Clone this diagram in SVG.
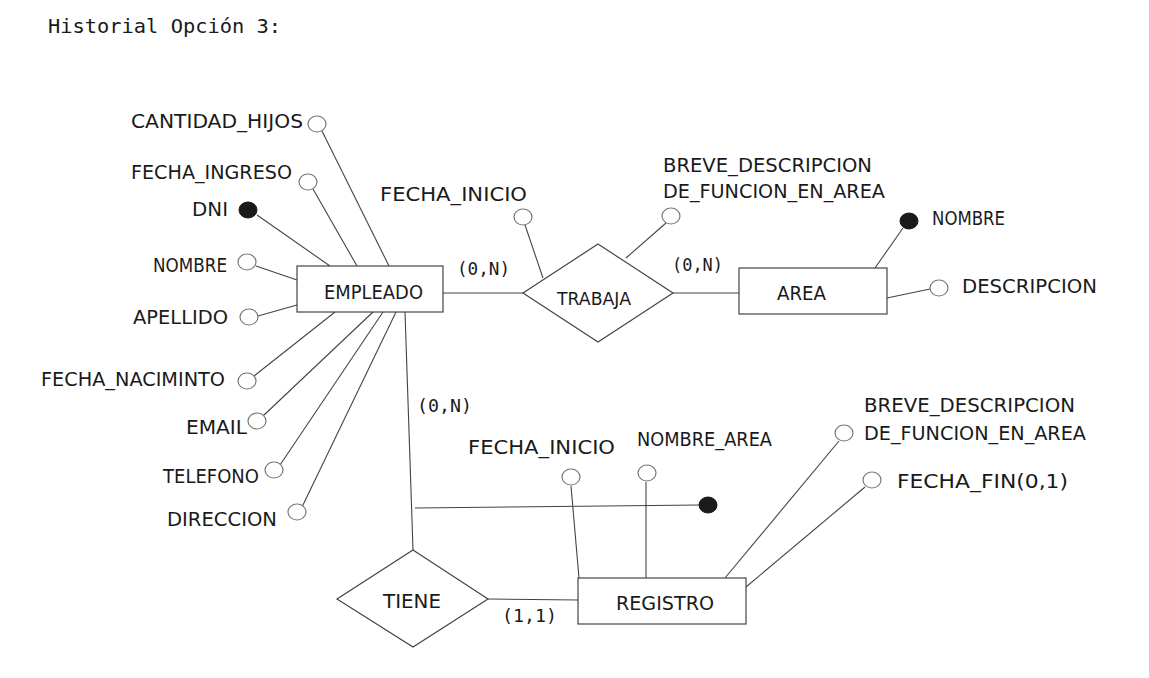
<svg xmlns="http://www.w3.org/2000/svg" width="1149" height="678" viewBox="0 0 1149 678">
<style>
.bg{fill:#fff}
.lbl{font-family:"DejaVu Sans","Noto Sans",sans-serif;font-size:19px;fill:#1a1a1a}
.mono{font-family:"DejaVu Sans Mono","Liberation Mono",monospace;font-size:18px;fill:#1a1a1a}
.title{font-family:"DejaVu Sans Mono","Liberation Mono",monospace;font-size:20px;fill:#1a1a1a}
.ent{fill:#fff;stroke:#444;stroke-width:1.2}
.att{fill:#fff;stroke:#777;stroke-width:1.2}
.key{fill:#1a1a1a;stroke:#1a1a1a;stroke-width:1}
.ln{stroke:#444;stroke-width:1.1;fill:none}
</style>
<rect class="bg" x="0" y="0" width="1149" height="678"/>
<text class="title" x="48" y="33" textLength="233" lengthAdjust="spacingAndGlyphs">Historial Opción 3:</text>

<g id="connectors">
<line class="ln" x1="322" y1="131" x2="389" y2="266"/>
<line class="ln" x1="313" y1="189" x2="357" y2="266"/>
<line class="ln" x1="257" y1="215" x2="330" y2="266"/>
<line class="ln" x1="256" y1="266" x2="297" y2="280"/>
<line class="ln" x1="258" y1="316" x2="297" y2="305"/>
<line class="ln" x1="254" y1="376" x2="335" y2="312"/>
<line class="ln" x1="263" y1="416" x2="373" y2="312"/>
<line class="ln" x1="280" y1="465" x2="383" y2="312"/>
<line class="ln" x1="302" y1="507" x2="396" y2="312"/>
<line class="ln" x1="405" y1="312" x2="413" y2="550"/>
<line class="ln" x1="415" y1="508" x2="700" y2="505"/>
<line class="ln" x1="443" y1="293" x2="523" y2="293"/>
<line class="ln" x1="673" y1="293" x2="739" y2="293"/>
<line class="ln" x1="525" y1="225" x2="543" y2="278"/>
<line class="ln" x1="666" y1="223" x2="626" y2="258"/>
<line class="ln" x1="903" y1="228" x2="875" y2="268"/>
<line class="ln" x1="887" y1="298" x2="930" y2="289"/>
<line class="ln" x1="488" y1="599" x2="578" y2="600"/>
<line class="ln" x1="571" y1="486" x2="579" y2="578"/>
<line class="ln" x1="646" y1="482" x2="646" y2="578"/>
<line class="ln" x1="839" y1="441" x2="725" y2="578"/>
<line class="ln" x1="865" y1="487" x2="746" y2="587"/>
</g>

<g id="EMPLEADO">
<rect class="ent" x="297" y="266" width="146" height="46"/>
<text class="lbl" x="324" y="299" textLength="99" lengthAdjust="spacingAndGlyphs">EMPLEADO</text>
</g>
<g id="TRABAJA">
<polygon class="ent" points="598,244 673,293 598,342 523,293"/>
<text class="lbl" x="557" y="305" textLength="74" lengthAdjust="spacingAndGlyphs" style="font-size:17px">TRABAJA</text>
</g>
<g id="AREA">
<rect class="ent" x="739" y="268" width="148" height="46"/>
<text class="lbl" x="777" y="300" textLength="49" lengthAdjust="spacingAndGlyphs">AREA</text>
</g>
<g id="TIENE">
<polygon class="ent" points="413,550 488,599 413,647 337,599"/>
<text class="lbl" x="383" y="608" textLength="58" lengthAdjust="spacingAndGlyphs">TIENE</text>
</g>
<g id="REGISTRO">
<rect class="ent" x="578" y="578" width="168" height="46"/>
<text class="lbl" x="616" y="610" textLength="98" lengthAdjust="spacingAndGlyphs">REGISTRO</text>
</g>

<g id="attr-cantidad-hijos">
<ellipse class="att" cx="317" cy="124" rx="9" ry="8"/>
<text class="lbl" x="131" y="128" textLength="172" lengthAdjust="spacingAndGlyphs">CANTIDAD_HIJOS</text>
</g>
<g id="attr-fecha-ingreso">
<ellipse class="att" cx="308" cy="182" rx="9" ry="8"/>
<text class="lbl" x="131" y="179" textLength="161" lengthAdjust="spacingAndGlyphs">FECHA_INGRESO</text>
</g>
<g id="attr-dni">
<ellipse class="key" cx="248" cy="210" rx="9" ry="8"/>
<text class="lbl" x="192" y="216" textLength="36" lengthAdjust="spacingAndGlyphs">DNI</text>
</g>
<g id="attr-nombre">
<ellipse class="att" cx="247" cy="262" rx="9" ry="8"/>
<text class="lbl" x="153" y="272" textLength="74" lengthAdjust="spacingAndGlyphs">NOMBRE</text>
</g>
<g id="attr-apellido">
<ellipse class="att" cx="249" cy="317" rx="9" ry="8"/>
<text class="lbl" x="133" y="324" textLength="95" lengthAdjust="spacingAndGlyphs">APELLIDO</text>
</g>
<g id="attr-fecha-nacimiento">
<ellipse class="att" cx="247" cy="381" rx="9" ry="8"/>
<text class="lbl" x="41" y="386" textLength="184" lengthAdjust="spacingAndGlyphs">FECHA_NACIMINTO</text>
</g>
<g id="attr-email">
<ellipse class="att" cx="257" cy="421" rx="9" ry="8"/>
<text class="lbl" x="186" y="434" textLength="61" lengthAdjust="spacingAndGlyphs">EMAIL</text>
</g>
<g id="attr-telefono">
<ellipse class="att" cx="274" cy="470" rx="9" ry="8"/>
<text class="lbl" x="163" y="483" textLength="96" lengthAdjust="spacingAndGlyphs">TELEFONO</text>
</g>
<g id="attr-direccion">
<ellipse class="att" cx="297" cy="512" rx="9" ry="8"/>
<text class="lbl" x="167" y="526" textLength="110" lengthAdjust="spacingAndGlyphs">DIRECCION</text>
</g>

<g id="attr-trabaja-fecha-inicio">
<ellipse class="att" cx="523" cy="217" rx="9" ry="8"/>
<text class="lbl" x="380" y="201" textLength="147" lengthAdjust="spacingAndGlyphs">FECHA_INICIO</text>
</g>
<g id="attr-trabaja-breve">
<ellipse class="att" cx="671" cy="216" rx="9" ry="8"/>
<text class="lbl" x="663" y="172" textLength="209" lengthAdjust="spacingAndGlyphs">BREVE_DESCRIPCION</text>
<text class="lbl" x="663" y="198" textLength="222" lengthAdjust="spacingAndGlyphs">DE_FUNCION_EN_AREA</text>
</g>
<g id="attr-area-nombre">
<ellipse class="key" cx="909" cy="221" rx="9" ry="8"/>
<text class="lbl" x="932" y="225" textLength="73" lengthAdjust="spacingAndGlyphs">NOMBRE</text>
</g>
<g id="attr-area-descripcion">
<ellipse class="att" cx="939" cy="288" rx="9" ry="8"/>
<text class="lbl" x="962" y="293" textLength="135" lengthAdjust="spacingAndGlyphs">DESCRIPCION</text>
</g>

<g id="attr-registro-key">
<ellipse class="key" cx="708" cy="505" rx="9" ry="8"/>
</g>
<g id="attr-registro-fecha-inicio">
<ellipse class="att" cx="571" cy="477" rx="9" ry="8"/>
<text class="lbl" x="468" y="454" textLength="147" lengthAdjust="spacingAndGlyphs">FECHA_INICIO</text>
</g>
<g id="attr-registro-nombre-area">
<ellipse class="att" cx="647" cy="473" rx="9" ry="8"/>
<text class="lbl" x="637" y="446" textLength="135" lengthAdjust="spacingAndGlyphs">NOMBRE_AREA</text>
</g>
<g id="attr-registro-breve">
<ellipse class="att" cx="844" cy="433" rx="9" ry="8"/>
<text class="lbl" x="864" y="412" textLength="211" lengthAdjust="spacingAndGlyphs">BREVE_DESCRIPCION</text>
<text class="lbl" x="864" y="440" textLength="222" lengthAdjust="spacingAndGlyphs">DE_FUNCION_EN_AREA</text>
</g>
<g id="attr-registro-fecha-fin">
<ellipse class="att" cx="872" cy="480" rx="9" ry="8"/>
<text class="lbl" x="897" y="488" textLength="171" lengthAdjust="spacingAndGlyphs">FECHA_FIN(0,1)</text>
</g>

<g id="cardinalities">
<text class="mono" x="457" y="275" textLength="53" lengthAdjust="spacingAndGlyphs">(0,N)</text>
<text class="mono" x="672" y="271" textLength="51" lengthAdjust="spacingAndGlyphs">(0,N)</text>
<text class="mono" x="417" y="412" textLength="55" lengthAdjust="spacingAndGlyphs">(0,N)</text>
<text class="mono" x="502" y="622" textLength="55" lengthAdjust="spacingAndGlyphs">(1,1)</text>
</g>
</svg>
